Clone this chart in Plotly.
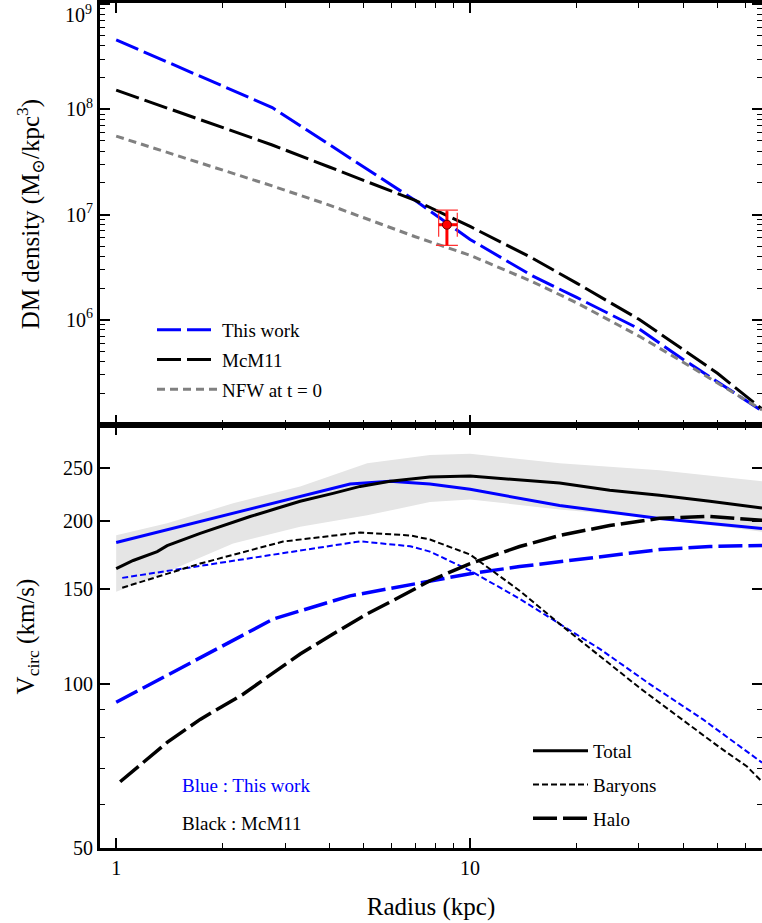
import math
import plotly.graph_objects as go

# ---------------- top panel: DM density ----------------
r_dens = [1.0, 2.0, 2.76, 4.0, 5.0, 7.0, 10.0, 15.0, 20.0, 30.0, 40.0, 50.0, 66.8]
rho_this_work = [4.57e8, 1.67e8, 1.04e8, 4.62e7, 2.84e7, 1.36e7, 5.8e6, 2.61e6,
                 1.63e6, 8.2e5, 4.2e5, 2.55e5, 1.36e5]
rho_mcm11 = [1.52e8, 6.72e7, 4.58e7, 2.83e7, 2.11e7, 1.36e7, 7.7e6, 3.85e6,
             2.23e6, 1.01e6, 5.2e5, 3.1e5, 1.42e5]
rho_nfw = [5.56e7, 2.66e7, 1.87e7, 1.23e7, 9.3e6, 6.15e6, 4.1e6, 2.3e6,
           1.45e6, 7.0e5, 3.95e5, 2.5e5, 1.39e5]

# observational point (solar neighbourhood)
obs_r = [8.6]
obs_rho = [8.0e6]
obs_rho_err_hi = [3.0e6]
obs_rho_err_lo = [2.9e6]
obs_r_err_hi = [0.6]
obs_r_err_lo = [0.45]

# ---------------- bottom panel: circular velocity ----------------
r_band = [1.0, 1.393, 2.14, 3.31, 5.12, 7.70, 10.0, 17.9, 34.3, 66.8]
v_band_hi = [188.0, 197.8, 215.3, 231.3, 255.2, 264.1, 265.5, 255.2, 247.6, 236.5]
v_band_lo = [148.0, 161.1, 181.6, 195.0, 204.6, 216.4, 218.9, 209.8, 201.8, 190.9]

r_tot_tw = [1.0, 4.58, 5.94, 7.70, 10.0, 17.9, 34.3, 66.8]
v_tot_tw = [182.4, 233.6, 236.5, 233.6, 228.5, 213.3, 201.8, 193.6]

r_bar_tw = [1.04, 4.89, 6.77, 7.70, 10.0, 13.8, 17.9, 23.3, 32.2, 45.5, 66.8]
v_bar_tw = [157.0, 183.3, 179.5, 175.5, 161.9, 143.7, 129.2, 116.1, 100.1, 86.2, 71.8]

r_halo_tw = [1.0, 2.78, 4.58, 7.70, 10.0, 13.8, 17.9, 23.3, 34.3, 47.6, 66.8]
v_halo_tw = [92.7, 131.9, 145.5, 155.2, 159.8, 164.7, 168.2, 171.8, 177.0, 179.3, 180.1]

r_tot_mc = [1.0, 1.117, 1.306, 1.393, 1.727, 2.005, 2.39, 2.85, 3.31, 4.10, 4.89,
            5.94, 7.70, 10.0, 13.8, 17.9, 24.8, 34.3, 47.6, 66.8]
v_tot_mc = [163.3, 169.0, 175.5, 180.0, 189.5, 196.1, 203.6, 210.8, 217.2, 224.6, 231.3,
            236.5, 240.6, 241.6, 237.6, 234.6, 227.5, 222.7, 217.2, 211.0]

r_bar_mc = [1.04, 1.727, 2.96, 4.89, 6.77, 7.70, 10.0, 13.8, 17.9, 23.3, 30.2, 39.7,
            50.8, 60.6, 66.8]
v_bar_mc = [150.6, 166.8, 183.1, 190.3, 187.9, 184.7, 173.3, 148.7, 129.2, 112.7, 98.4,
            86.2, 76.5, 70.6, 66.2]

r_halo_mc = [1.026, 1.192, 1.393, 1.727, 2.283, 2.67, 3.31, 4.10, 5.12, 6.34, 7.70, 10.0,
             13.8, 17.9, 24.8, 34.3, 47.6, 66.8]
v_halo_mc = [66.2, 71.8, 78.2, 86.2, 95.9, 103.1, 113.7, 123.8, 134.8, 144.9, 155.1, 166.8,
             179.3, 187.9, 196.0, 202.0, 203.7, 200.3]

# tick labels
x_ticks = [1, 10]
x_ticktext = ["1", "10"]
v_ticks = [50, 100, 150, 200, 250]
v_ticktext = ["50", "100", "150", "200", "250"]
rho_ticks = [1e6, 1e7, 1e8, 1e9]
rho_ticktext = ["10<sup>6</sup>", "10<sup>7</sup>", "10<sup>8</sup>", ""]
rho_top_label = "10<sup>9</sup>"

BLUE = "#0000ff"
GREY = "#808080"
FONT = "Liberation Serif, DejaVu Serif, Times New Roman, serif"

fig = go.Figure()

# ---- top panel traces ----
fig.add_trace(go.Scatter(x=r_dens, y=rho_this_work, mode="lines", name="This work",
                         line=dict(color=BLUE, width=3, dash="24px,6px"),
                         xaxis="x2", yaxis="y2", legend="legend", legendgroup="a"))
fig.add_trace(go.Scatter(x=r_dens, y=rho_mcm11, mode="lines", name="McM11",
                         line=dict(color="black", width=3, dash="24px,6px"),
                         xaxis="x2", yaxis="y2", legend="legend", legendgroup="b"))
fig.add_trace(go.Scatter(x=r_dens, y=rho_nfw, mode="lines", name="NFW at t = 0",
                         line=dict(color=GREY, width=3, dash="8px,5px"),
                         xaxis="x2", yaxis="y2", legend="legend", legendgroup="c"))
# error bars (thin capped + thick inner) and the point
fig.add_trace(go.Scatter(x=obs_r, y=obs_rho, mode="markers",
                         marker=dict(size=2, color="rgba(255,0,0,0)"),
                         error_y=dict(type="data", symmetric=False, array=obs_rho_err_hi,
                                      arrayminus=obs_rho_err_lo, color="#ff3030",
                                      thickness=1.2, width=11),
                         error_x=dict(type="data", symmetric=False, array=obs_r_err_hi,
                                      arrayminus=obs_r_err_lo, color="#ff3030",
                                      thickness=1.2, width=12),
                         xaxis="x2", yaxis="y2", showlegend=False, hoverinfo="skip"))
fig.add_trace(go.Scatter(x=obs_r, y=obs_rho, mode="markers",
                         marker=dict(size=9, color="#ff0000", line=dict(color="#600000", width=1)),
                         error_y=dict(type="data", symmetric=False, array=[v * 0.92 for v in obs_rho_err_hi],
                                      arrayminus=obs_rho_err_lo, color="#ff0000",
                                      thickness=3, width=0),
                         error_x=dict(type="data", symmetric=False, array=obs_r_err_hi,
                                      arrayminus=obs_r_err_lo, color="#ff0000",
                                      thickness=3, width=0),
                         xaxis="x2", yaxis="y2", showlegend=False))

# ---- bottom panel traces ----
fig.add_trace(go.Scatter(x=r_band, y=v_band_lo, mode="lines", line=dict(width=0),
                         showlegend=False, hoverinfo="skip", xaxis="x", yaxis="y"))
fig.add_trace(go.Scatter(x=r_band, y=v_band_hi, mode="lines", line=dict(width=0),
                         fill="tonexty", fillcolor="#e5e5e5",
                         showlegend=False, hoverinfo="skip", xaxis="x", yaxis="y"))

fig.add_trace(go.Scatter(x=r_tot_tw, y=v_tot_tw, mode="lines",
                         line=dict(color=BLUE, width=3), showlegend=False, xaxis="x", yaxis="y"))
fig.add_trace(go.Scatter(x=r_bar_tw, y=v_bar_tw, mode="lines",
                         line=dict(color=BLUE, width=2, dash="6px,3px"), showlegend=False,
                         xaxis="x", yaxis="y"))
fig.add_trace(go.Scatter(x=r_halo_tw, y=v_halo_tw, mode="lines",
                         line=dict(color=BLUE, width=3.5, dash="24px,6px"), showlegend=False,
                         xaxis="x", yaxis="y"))

fig.add_trace(go.Scatter(x=r_tot_mc, y=v_tot_mc, mode="lines", name="Total",
                         line=dict(color="black", width=3), legend="legend2", legendgroup="t",
                         xaxis="x", yaxis="y"))
fig.add_trace(go.Scatter(x=r_bar_mc, y=v_bar_mc, mode="lines", name="Baryons",
                         line=dict(color="black", width=2, dash="6px,3px"), legend="legend2",
                         legendgroup="u", xaxis="x", yaxis="y"))
fig.add_trace(go.Scatter(x=r_halo_mc, y=v_halo_mc, mode="lines", name="Halo",
                         line=dict(color="black", width=3.5, dash="24px,6px"), legend="legend2",
                         legendgroup="v", xaxis="x", yaxis="y"))

# ---------------- axes ----------------
x_minor = [2, 3, 4, 5, 6, 7, 8, 9, 20, 30, 40, 50, 60]
y2_minor = [k * 10 ** e for e in range(5, 9) for k in range(2, 10)]
y_minor = [60, 70, 80, 90]

common = dict(type="log", showline=True, linewidth=3, linecolor="black", mirror="ticks",
              ticks="inside", ticklen=10, tickwidth=1.5, tickcolor="black",
              showgrid=False, zeroline=False, automargin=False,
              tickfont=dict(family=FONT, size=20, color="black"))

def minor(vals):
    return dict(tickmode="array", tickvals=vals, ticks="inside", ticklen=5,
                tickwidth=1.2, tickcolor="black", showgrid=False)

split = 423 / 845
xrange = [math.log10(0.9), math.log10(66.8)]

fig.update_layout(
    width=762, height=923,
    margin=dict(l=100, r=0, t=3, b=75),
    paper_bgcolor="white", plot_bgcolor="white",
    font=dict(family=FONT, size=20, color="black"),
    xaxis=dict(**common, range=xrange, domain=[0, 1], anchor="y",
               tickmode="array", tickvals=x_ticks, ticktext=x_ticktext,
               minor=minor(x_minor),
               title=dict(text="Radius (kpc)", font=dict(family=FONT, size=25), standoff=20)),
    xaxis2=dict(**common, range=xrange, domain=[0, 1], anchor="y2", matches="x",
                tickmode="array", tickvals=x_ticks, showticklabels=False,
                minor=minor(x_minor)),
    yaxis=dict(**common, range=[math.log10(50), math.log10(300)], domain=[0, split],
               anchor="x", tickmode="array", tickvals=v_ticks,
               ticktext=v_ticktext, minor=minor(y_minor),
               title=dict(text="V<sub>circ</sub> (km/s)", font=dict(family=FONT, size=25),
                          standoff=22)),
    yaxis2=dict(**common, range=[5, 9.01], domain=[split, 1], anchor="x2",
                tickmode="array", tickvals=rho_ticks, ticktext=rho_ticktext,
                minor=minor(y2_minor),
                title=dict(text="DM density (M<sub>⊙</sub>/kpc<sup>3</sup>)",
                           font=dict(family=FONT, size=25), standoff=20)),
    legend=dict(x=(152 - 100) / 662, y=(848 - 311) / 845, xanchor="left", yanchor="top",
                bgcolor="rgba(0,0,0,0)", font=dict(family=FONT, size=19),
                itemwidth=60, tracegroupgap=2),
    legend2=dict(x=(528 - 100) / 662, y=(848 - 732) / 845, xanchor="left", yanchor="top",
                 bgcolor="rgba(0,0,0,0)", font=dict(family=FONT, size=19),
                 itemwidth=55, tracegroupgap=6),
    annotations=[
        dict(text=rho_top_label, xref="paper", yref="paper", x=0, y=1,
             xanchor="right", yanchor="top", xshift=-6, yshift=3, showarrow=False,
             font=dict(family=FONT, size=20, color="black")),
        dict(text="Blue : This work", xref="paper", yref="paper",
             x=(180 - 100) / 662, y=(848 - 785) / 845, xanchor="left", yanchor="middle",
             showarrow=False, font=dict(family=FONT, size=19, color=BLUE)),
        dict(text="Black : McM11", xref="paper", yref="paper",
             x=(180 - 100) / 662, y=(848 - 823) / 845, xanchor="left", yanchor="middle",
             showarrow=False, font=dict(family=FONT, size=19, color="black")),
    ],
)

fig.write_html("out.html")
